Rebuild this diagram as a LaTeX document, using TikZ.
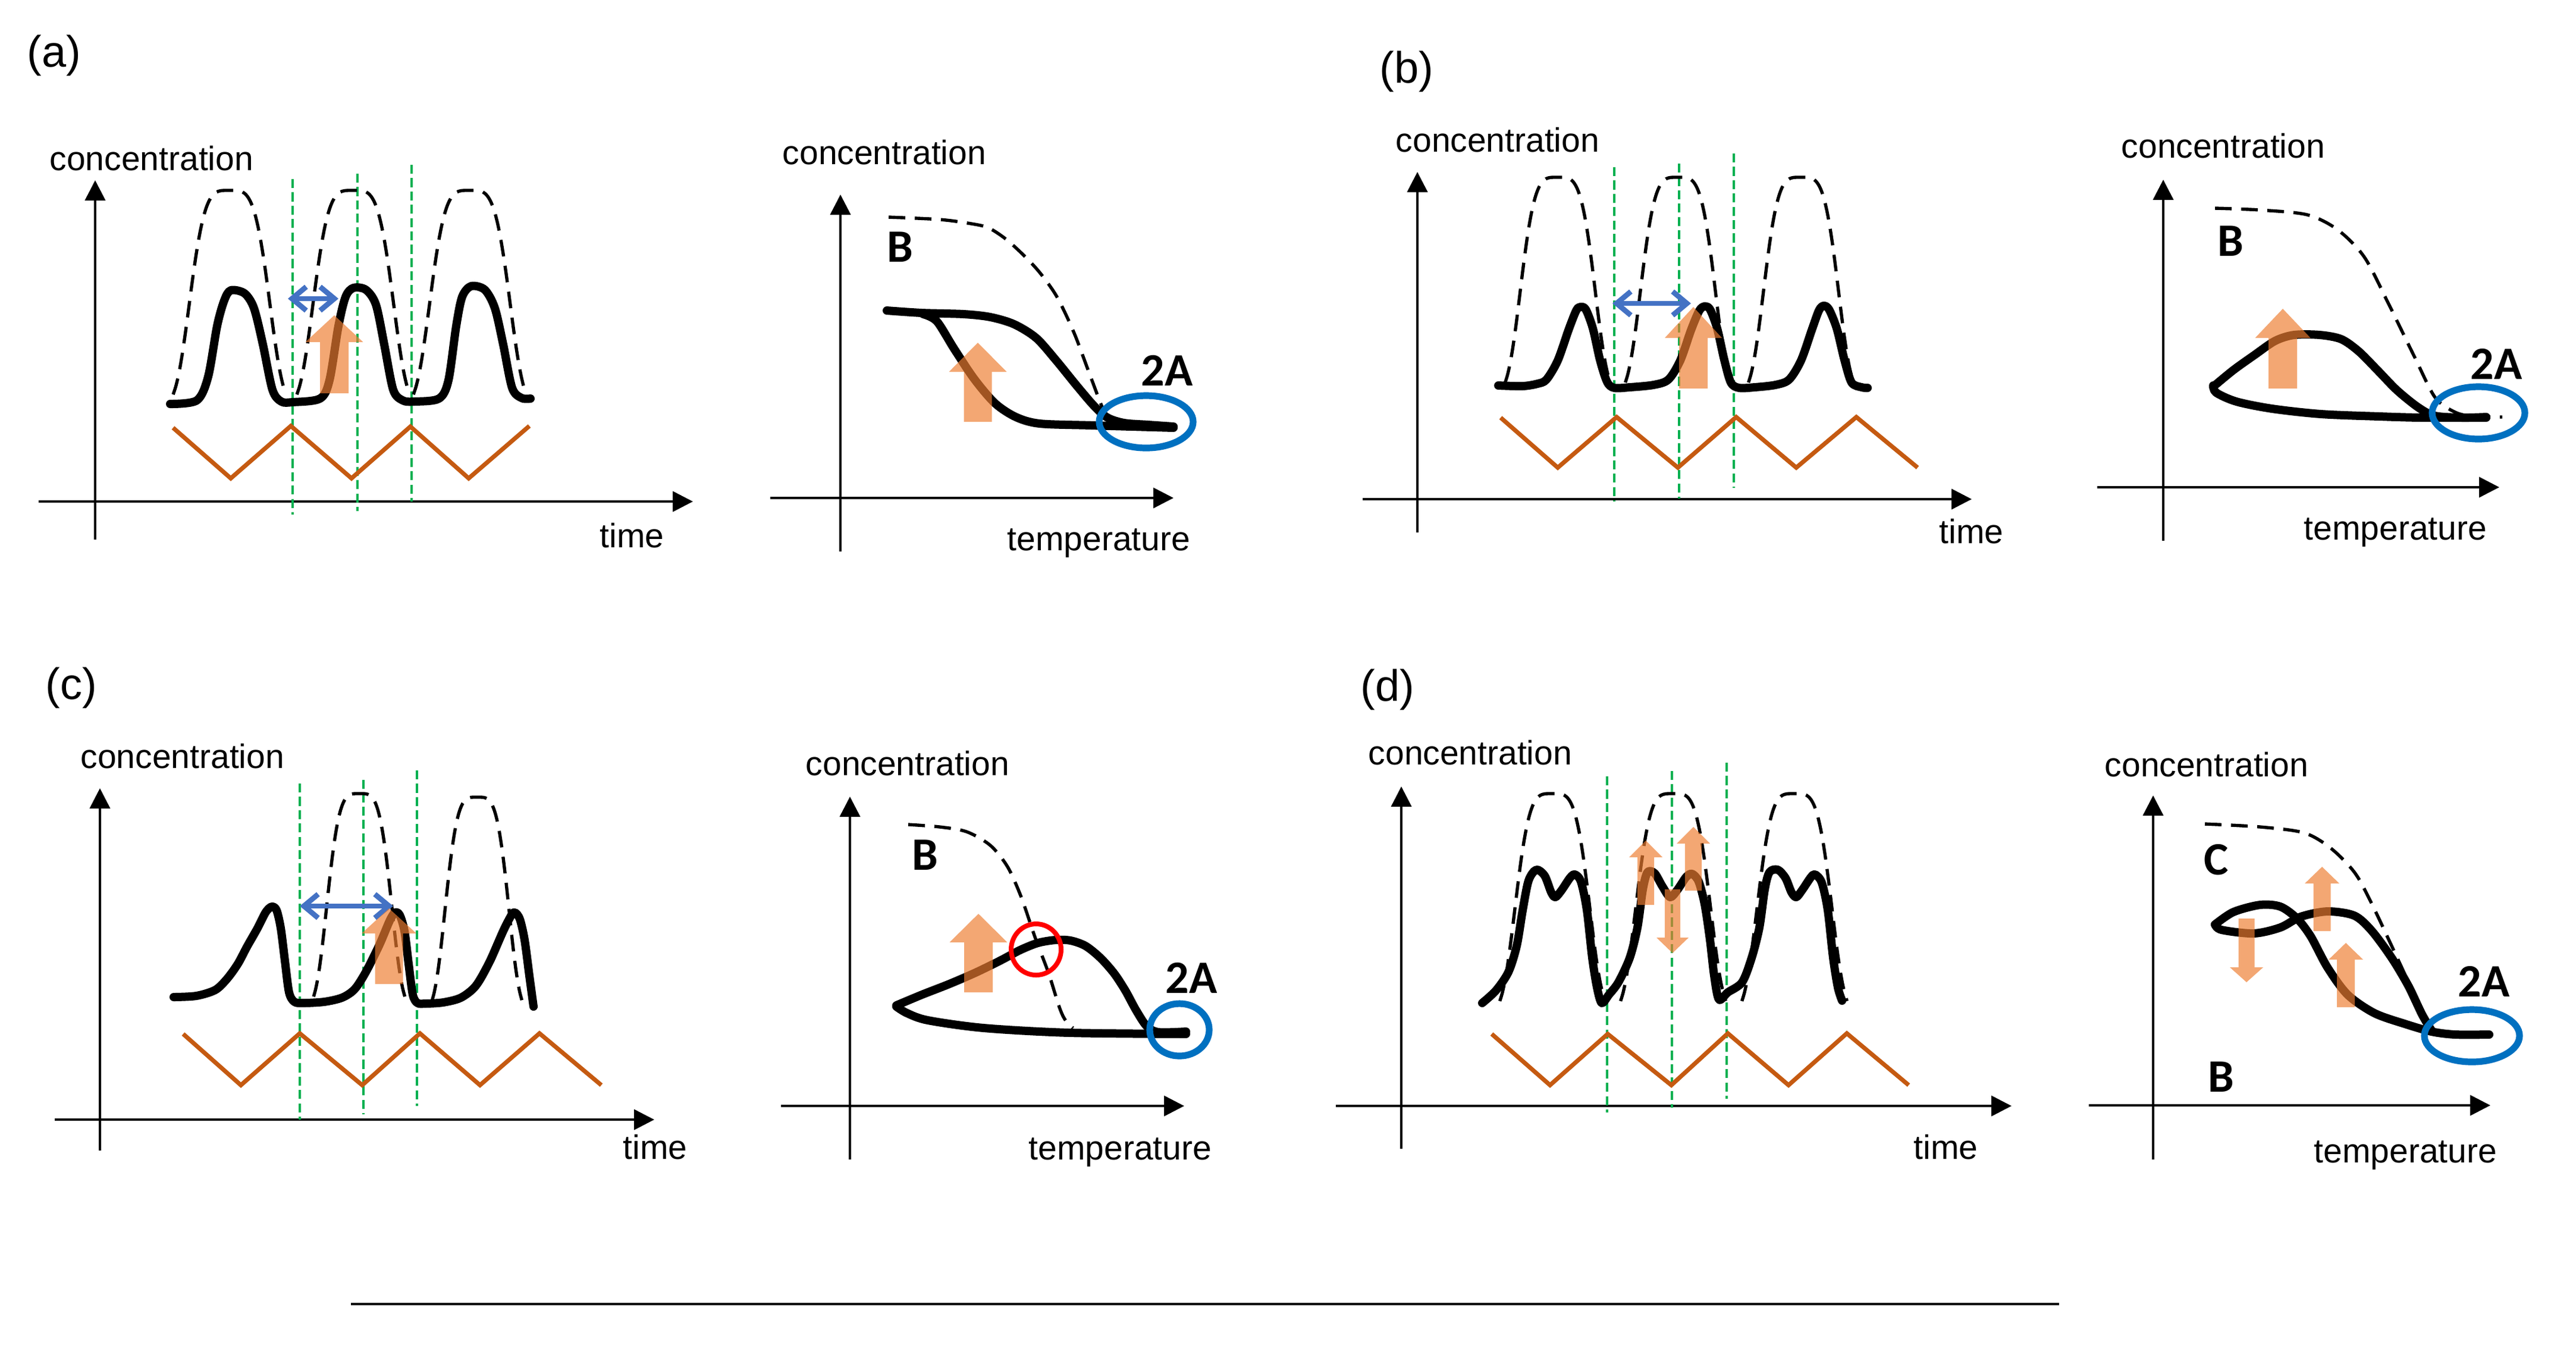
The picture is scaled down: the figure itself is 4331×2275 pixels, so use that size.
\documentclass[tikz,border=0pt]{standalone}
\usepackage{fontspec}
\setmainfont{Liberation Sans}
\newfontfamily\calfont{Carlito}
\usetikzlibrary{arrows.meta}
\definecolor{cwave}{HTML}{C55A11}
\definecolor{cgreen}{HTML}{00B050}
\definecolor{cblue}{HTML}{4472C4}
\definecolor{cell}{HTML}{0070C0}
\definecolor{corange}{HTML}{ED7D31}
\newcommand\dpeak[4]{\draw[dsh] plot[domain=-1.3:1.3, samples=45, smooth] ({#1+\x*#4},{#2-(#2-#3)*exp(-(\x*\x)*(\x*\x))});}
\newcommand\blkarr[6]{\fill[bigarr] ({#1-#5/2},#2) -- ({#1-#5/2},#4) -- ({#1-#6/2},#4) -- (#1,#3) -- ({#1+#6/2},#4) -- ({#1+#5/2},#4) -- ({#1+#5/2},#2) -- cycle;}
\begin{document}
\begin{tikzpicture}[x=0.25pt,y=-0.25pt,
  axis/.style={line width=1pt,-{Triangle[length=8.5pt,width=8.5pt]}},
  thk/.style={line width=3.5pt,line join=round,line cap=round},
  dsh/.style={line width=1.35pt,dash pattern=on 7pt off 4pt},
  grn/.style={line width=0.8pt,draw=cgreen,dash pattern=on 3.8pt off 1.8pt},
  wave/.style={line width=1.8pt,draw=cwave},
  blarr/.style={line width=2.2pt,draw=cblue,{Straight Barb[length=6pt,width=10pt]}-{Straight Barb[length=6pt,width=10pt]}},
  bigarr/.style={fill=corange,fill opacity=0.68},
  ell/.style={draw=cell,line width=2.8pt},
  axlbl/.style={font=\fontsize{14.25pt}{16pt}\selectfont,inner sep=0pt,anchor=base west},
  panel/.style={font=\fontsize{18.5pt}{20pt}\selectfont,inner sep=0pt,anchor=base west},
  bold/.style={font=\calfont\bfseries\fontsize{19.5pt}{21pt}\selectfont,inner sep=0pt,anchor=base}]
\useasboundingbox (0,0) rectangle (4331,2275);

% ================= panel (a) =================
\node[panel] (pa) at (45,112) {(a)};
\node[axlbl] (ca1) at (83,286) {concentration};
\node[axlbl] (ta1) at (1008,920) {time};
\draw[axis] (160,907) -- (160,303);
\draw[axis] (65,843) -- (1165,843);
\draw[grn] (492,301) -- (492,865);
\draw[grn] (601,292) -- (601,859);
\draw[grn] (692,277) -- (692,843);
\draw[wave] (291,719) -- (388,804) -- (489,716) -- (591,804) -- (690,717) -- (788,804) -- (890,716);
\dpeak{386}{684}{320}{73}
\dpeak{594}{684}{320}{73}
\dpeak{790}{684}{320}{73}
\draw[thk] plot[smooth,tension=0.5] coordinates {(286,679) (331,673) (350,633) (365,548) (377,505) (388,488) (411,493) (427,518) (442,579) (458,655) (473,675) (492,676) (538,670) (554,639) (569,548) (581,499) (594,484) (615,487) (632,512) (646,579) (661,655) (677,673) (696,675) (738,670) (754,639) (767,548) (777,499) (792,481) (815,487) (832,518) (846,579) (861,652) (877,669) (892,670)};
\draw[blarr] (484,502) -- (569,502);
\blkarr{562}{661}{530}{575}{48}{97}

\node[axlbl] (ca2) at (1315,276) {concentration};
\node[axlbl] (te2) at (1693,925) {temperature};
\draw[axis] (1413,927) -- (1413,327);
\draw[axis] (1295,837) -- (1973,837);
\draw[dsh] plot[smooth,tension=0.5] coordinates {(1494,365) (1580,369) (1633,376) (1662,383) (1690,401) (1719,427) (1748,458) (1777,499) (1806,560) (1835,637) (1858,694) (1878,704)};
\draw[thk] plot[smooth,tension=0.5] coordinates {(1491,522) (1550,526) (1620,528) (1665,533) (1705,545) (1742,568) (1775,605) (1810,648) (1840,683) (1862,702) (1890,711) (1930,714) (1973,717)};
\draw[thk] plot[smooth,tension=0.5] coordinates {(1552,528) (1575,540) (1604,586) (1638,637) (1673,678) (1708,701) (1748,712) (1835,715) (1973,719)};
\draw[ell] (1927,709) ellipse [x radius=79,y radius=44];
\node[bold] (b2) at (1513,440) {B};
\node[bold] (a2) at (1962,648) {2A};
\blkarr{1644}{709}{576}{625}{47}{97}

% ================= panel (b) =================
\node[panel] (pb) at (2319,139) {(b)};
\node[axlbl] (cb1) at (2346,255) {concentration};
\node[axlbl] (tb1) at (3260,913) {time};
\draw[axis] (2383,895) -- (2383,289);
\draw[axis] (2291,839) -- (3315,839);
\draw[grn] (2714,281) -- (2714,843);
\draw[grn] (2823,275) -- (2823,838);
\draw[grn] (2915,258) -- (2915,820);
\draw[wave] (2523,702) -- (2619,786) -- (2718,701) -- (2821,786) -- (2919,701) -- (3020,786) -- (3121,701) -- (3224,786);
\dpeak{2619}{664}{298}{68}
\dpeak{2821}{664}{298}{68}
\dpeak{3028}{664}{298}{68}
\draw[thk] plot[smooth,tension=0.5] coordinates {(2519,648) (2560,649) (2585,645) (2600,638) (2619,606) (2637,555) (2650,522) (2657,516) (2666,520) (2678,552) (2690,605) (2702,642) (2714,652) (2740,651) (2780,647) (2805,638) (2825,606) (2843,555) (2857,522) (2866,515) (2875,520) (2887,552) (2899,605) (2910,643) (2924,652) (2950,651) (2985,647) (3008,638) (3028,606) (3046,555) (3058,522) (3066,514) (3075,520) (3088,552) (3101,605) (3113,643) (3130,651) (3140,652)};
\draw[blarr] (2711,510) -- (2843,510);
\blkarr{2847}{653}{516}{568}{48}{96}

\node[axlbl] (cb2) at (3566,265) {concentration};
\node[axlbl] (tb2) at (3873,907) {temperature};
\draw[axis] (3637,909) -- (3637,302);
\draw[axis] (3526,819) -- (4202,819);
\draw[dsh] plot[smooth,tension=0.5] coordinates {(3724,350) (3800,353) (3879,361) (3930,386) (3975,432) (4015,509) (4060,601) (4094,668) (4128,693) (4160,700) (4207,701)};
\draw[thk] plot[smooth,tension=0.5] coordinates {(3721,650) (3755,622) (3790,597) (3825,573) (3857,563) (3900,563) (3936,570) (3965,590) (3995,620) (4030,656) (4066,685) (4094,699) (4140,702) (4180,701)};
\draw[thk] plot[smooth,tension=0.5] coordinates {(3721,648) (3726,660) (3760,675) (3820,687) (3902,696) (4000,700) (4072,702) (4180,702)};
\draw[ell] (4167,694) ellipse [x radius=78,y radius=44];
\node[bold] (b4) at (3750,430) {B};
\node[bold] (a4) at (4197,637) {2A};
\blkarr{3838}{653}{519}{568}{48}{93}

% ================= panel (c) =================
\node[panel] (pc) at (76,1175) {(c)};
\node[axlbl] (cc1) at (135,1291) {concentration};
\node[axlbl] (tc1) at (1047,1948) {time};
\draw[axis] (168,1934) -- (168,1325);
\draw[axis] (92,1882) -- (1100,1882);
\draw[grn] (504,1317) -- (504,1882);
\draw[grn] (611,1311) -- (611,1873);
\draw[grn] (701,1295) -- (701,1859);
\draw[wave] (308,1738) -- (405,1824) -- (504,1737) -- (609,1824) -- (706,1737) -- (807,1824) -- (907,1737) -- (1011,1824);
\dpeak{604}{1696}{1334}{59}
\dpeak{802}{1702}{1340}{58}
\draw[thk] plot[smooth,tension=0.5] coordinates {(292,1676) (330,1674) (362,1664) (382,1645) (400,1620) (416,1590) (432,1562) (447,1533) (457,1524) (465,1530) (472,1560) (479,1615) (486,1668) (495,1684) (510,1686) (545,1684) (575,1677) (596,1663) (615,1634) (638,1588) (655,1548) (664,1534) (672,1538) (680,1565) (687,1620) (694,1672) (702,1686) (715,1687) (745,1685) (775,1677) (800,1657) (823,1617) (846,1565) (860,1538) (866,1534) (874,1545) (882,1580) (890,1640) (897,1692)};
\draw[blarr] (504,1523) -- (661,1523);
\blkarr{654}{1654}{1527}{1569}{47}{92}

\node[axlbl] (cc2) at (1354,1303) {concentration};
\node[axlbl] (tc2) at (1729,1949) {temperature};
\draw[axis] (1429,1949) -- (1429,1339);
\draw[axis] (1313,1859) -- (1991,1859);
\draw[dsh] plot[smooth,tension=0.5] coordinates {(1527,1386) (1580,1390) (1625,1398) (1665,1421) (1694,1457) (1717,1508) (1740,1575) (1763,1636) (1780,1690) (1790,1713) (1804,1728)};
\draw[thk] plot[smooth,tension=0.5] coordinates {(1507,1690) (1550,1672) (1596,1654) (1640,1635) (1683,1614) (1715,1597) (1745,1585) (1775,1580) (1800,1581) (1825,1590) (1850,1610) (1873,1636) (1892,1665) (1910,1698) (1928,1725) (1948,1735) (1994,1734)};
\draw[thk] plot[smooth,tension=0.5] coordinates {(1507,1692) (1525,1703) (1560,1715) (1654,1728) (1798,1736) (1994,1738)};
\draw[draw=red,line width=2pt] (1742,1596) ellipse [x radius=42,y radius=43];
\draw[ell] (1983,1731) ellipse [x radius=50,y radius=44];
\node[bold] (b6) at (1555,1462) {B};
\node[bold] (a6) at (2003,1669) {2A};
\blkarr{1645}{1668}{1536}{1584}{48}{97}

% ================= panel (d) =================
\node[panel] (pd) at (2287,1178) {(d)};
\node[axlbl] (cd1) at (2300,1285) {concentration};
\node[axlbl] (td1) at (3217,1948) {time};
\draw[axis] (2356,1931) -- (2356,1322);
\draw[axis] (2246,1859) -- (3382,1859);
\draw[grn] (2702,1305) -- (2702,1870);
\draw[grn] (2811,1296) -- (2811,1862);
\draw[grn] (2903,1282) -- (2903,1847);
\draw[wave] (2508,1738) -- (2606,1824) -- (2703,1738) -- (2810,1824) -- (2905,1737) -- (3007,1824) -- (3105,1737) -- (3209,1824);
\dpeak{2610}{1704}{1334}{68}
\dpeak{2813}{1704}{1334}{68}
\dpeak{3017}{1704}{1334}{68}
\draw[thk] plot[smooth,tension=0.5] coordinates {(2492,1686) (2515,1665) (2536,1634) (2550,1590) (2560,1530) (2570,1480) (2583,1462) (2597,1472) (2608,1500) (2615,1508) (2625,1497) (2640,1475) (2648,1470) (2658,1482) (2668,1530) (2677,1610) (2685,1660) (2693,1686) (2705,1672) (2721,1651) (2740,1610) (2753,1559) (2762,1495) (2770,1466) (2782,1468) (2795,1490) (2808,1508) (2820,1496) (2835,1474) (2845,1469) (2856,1482) (2866,1520) (2875,1580) (2882,1640) (2890,1680) (2905,1668) (2929,1651) (2945,1610) (2958,1559) (2967,1495) (2975,1466) (2989,1462) (3002,1476) (3012,1500) (3020,1508) (3030,1496) (3045,1474) (3052,1470) (3063,1484) (3073,1530) (3082,1610) (3090,1660) (3097,1682)};
\blkarr{2767}{1521}{1413}{1441}{28}{56}
\blkarr{2847}{1497}{1390}{1418}{28}{56}
\blkarr{2812}{1495}{1602}{1576}{26}{54}

\node[axlbl] (cd2) at (3538,1305) {concentration};
\node[axlbl] (td2) at (3890,1954) {temperature};
\draw[axis] (3620,1949) -- (3620,1337);
\draw[axis] (3512,1858) -- (4187,1858);
\draw[dsh] plot[smooth,tension=0.5] coordinates {(3707,1385) (3800,1390) (3874,1400) (3919,1426) (3959,1467) (3987,1518) (4021,1590) (4049,1651) (4072,1708)};
\draw[thk] plot[smooth,tension=0.5] coordinates {(3724,1554) (3755,1533) (3800,1521) (3834,1524) (3862,1544) (3885,1574) (3913,1626) (3947,1672) (3992,1703) (4043,1721) (4088,1734) (4128,1739) (4185,1739)};
\draw[thk] plot[smooth,tension=0.5] coordinates {(3724,1554) (3735,1563) (3789,1569) (3834,1559) (3868,1541) (3913,1532) (3958,1539) (3987,1564) (4021,1610) (4049,1657) (4072,1705) (4088,1732)};
\draw[ell] (4156,1741) ellipse [x radius=80,y radius=44];
\node[bold] (c8) at (3726,1470) {C};
\node[bold] (b8) at (3734,1835) {B};
\node[bold] (a8) at (4176,1675) {2A};
\blkarr{3777}{1544}{1651}{1626}{27}{56}
\blkarr{3904}{1565}{1457}{1485}{29}{58}
\blkarr{3944}{1693}{1585}{1613}{30}{58}

% bottom rule
\draw[line width=0.8pt] (590,2192) -- (3462,2192);
\end{tikzpicture}
\end{document}
